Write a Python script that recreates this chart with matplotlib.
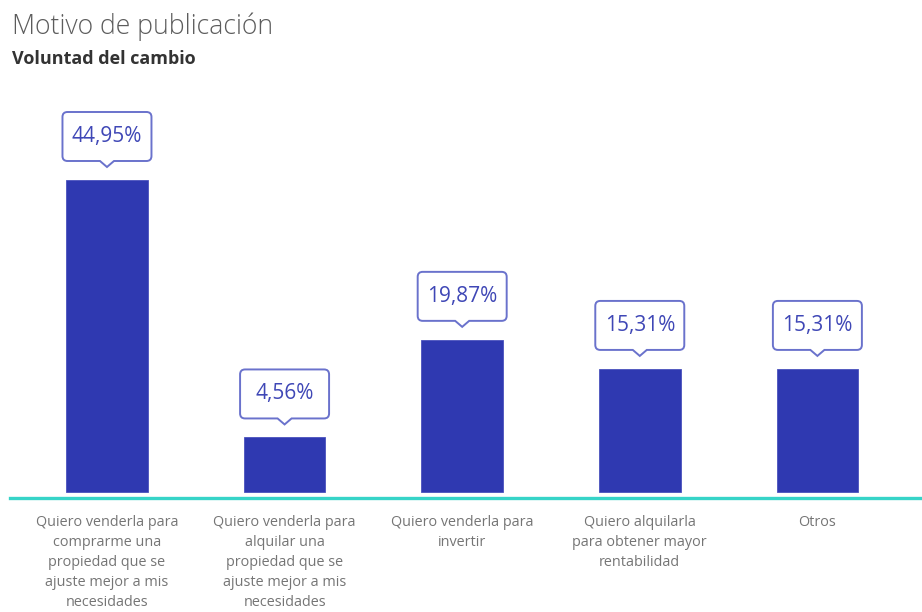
import numpy as np
import matplotlib
matplotlib.use("Agg")
import matplotlib.pyplot as plt
from matplotlib.path import Path
from matplotlib.patches import PathPatch
import matplotlib.transforms as mtransforms

categories = [
    "Quiero venderla para\ncomprarme una\npropiedad que se\najuste mejor a mis\nnecesidades",
    "Quiero venderla para\nalquilar una\npropiedad que se\najuste mejor a mis\nnecesidades",
    "Quiero venderla para\ninvertir",
    "Quiero alquilarla\npara obtener mayor\nrentabilidad",
    "Otros",
]
values = [44.95, 4.56, 19.87, 15.31, 15.31]
value_labels = ["44,95%", "4,56%", "19,87%", "15,31%", "15,31%"]
title = "Motivo de publicación"
subtitle = "Voluntad del cambio"

plt.rcParams['font.family'] = ['Open Sans', 'DejaVu Sans']

W, H = 922, 612
DPI = 100
fig = plt.figure(figsize=(W / DPI, H / DPI), dpi=DPI)

# axes in pixel coordinates
ax_left, ax_right = 10, 922
ax_top, ax_bottom = 100, 498
ax = fig.add_axes([ax_left / W, (H - ax_bottom) / H,
                   (ax_right - ax_left) / W, (ax_bottom - ax_top) / H])

BASE = -4.0  # visual baseline offset (data units) where bars start
x = np.arange(len(values))
ax.bar(x, np.array(values) - BASE, bottom=BASE, width=0.46,
       color="#2f39b1", edgecolor="#4a52bd", linewidth=0.6, zorder=2)

ax.set_xlim(-0.546, 4.589)
ax.set_ylim(-4.94, 57.5)

for s in ["top", "right", "left"]:
    ax.spines[s].set_visible(False)
ax.spines["bottom"].set_color("#36d4c8")
ax.spines["bottom"].set_linewidth(2.4)
ax.set_yticks([])
ax.set_xticks([])

# category labels
for xi, cat in zip(x, categories):
    ax.annotate(cat, xy=(xi, 0), xycoords=("data", "axes fraction"),
                xytext=(0, -17), textcoords="offset pixels",
                ha="center", va="top", fontsize=10.4, color="#757575",
                linespacing=1.45, annotation_clip=False)

# callouts
px = 1 / DPI
bw, bh = 89 * px, 49 * px
gap, notch_d, notch_w, r = 13 * px, 6 * px, 7 * px, 5 * px
for xi, v, lab in zip(x, values, value_labels):
    trans = fig.dpi_scale_trans + mtransforms.ScaledTranslation(xi, v, ax.transData)
    yb = gap + notch_d
    yt = yb + bh
    xl, xr = -bw / 2, bw / 2
    verts = [
        (0, gap), (notch_w, yb), (xr - r, yb), (xr, yb), (xr, yb + r),
        (xr, yt - r), (xr, yt), (xr - r, yt), (xl + r, yt), (xl, yt),
        (xl, yt - r), (xl, yb + r), (xl, yb), (xl + r, yb), (-notch_w, yb),
        (0, gap), (0, gap)
    ]
    codes = [Path.MOVETO, Path.LINETO, Path.LINETO, Path.CURVE3, Path.CURVE3,
             Path.LINETO, Path.CURVE3, Path.CURVE3, Path.LINETO, Path.CURVE3,
             Path.CURVE3, Path.LINETO, Path.CURVE3, Path.CURVE3, Path.LINETO,
             Path.LINETO, Path.CLOSEPOLY]
    patch = PathPatch(Path(verts, codes), transform=trans, facecolor="white",
                      edgecolor="#6a72cc", linewidth=1.4, zorder=3, clip_on=False)
    ax.add_patch(patch)
    ax.text(0, (yb + yt) / 2, lab, transform=trans, ha="center", va="center",
            fontsize=15, color="#3f47b6", zorder=4)

fig.text(12 / W, 1 - 27 / H, title, fontsize=19.2, color="#5c5c5c",
         fontweight="light", va="center", ha="left")
fig.text(12 / W, 1 - 59 / H, subtitle, fontsize=13, color="#333333",
         fontweight="bold", va="center", ha="left")

fig.savefig("out.png", dpi=DPI)
